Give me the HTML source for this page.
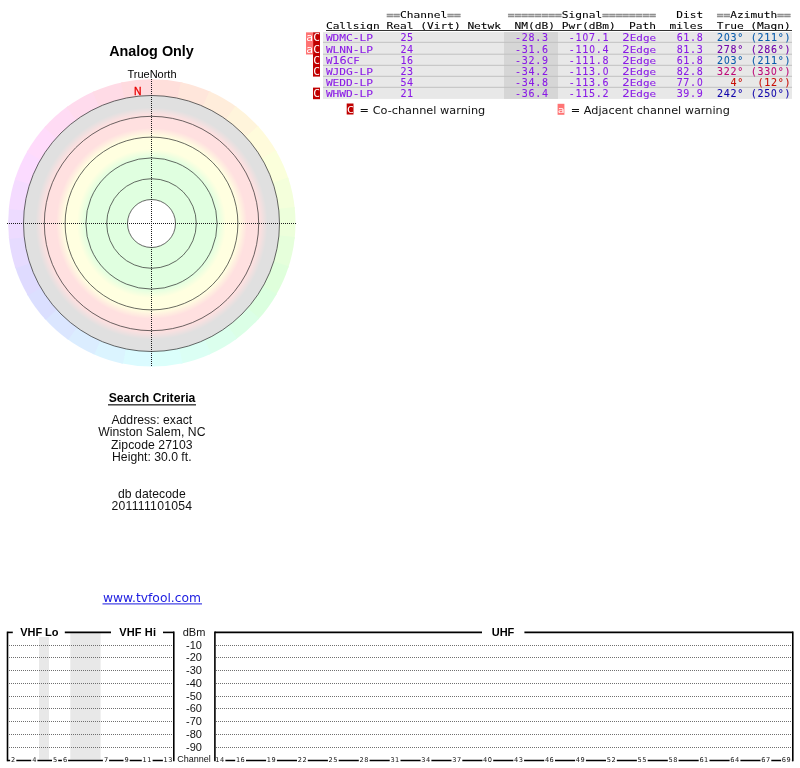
<!DOCTYPE html>
<html lang="en"><head><meta charset="utf-8"><title>TV Fool - Analog Only</title>
<style>
html,body{margin:0;padding:0;background:#fff;}
body{width:800px;height:768px;overflow:hidden;position:relative;}
svg{position:absolute;left:0;top:0;display:block;}
.sans{font-family:"Liberation Sans",Arial,Helvetica,sans-serif;}
.mono{font-family:"DejaVu Sans Mono","Liberation Mono",monospace;}
.verd{font-family:"DejaVu Sans","Liberation Sans",Verdana,sans-serif;}
.cond{font-family:"DejaVu Sans Condensed","DejaVu Sans","Liberation Sans",sans-serif;}
</style></head><body>
<svg width="800" height="768" viewBox="0 0 800 768">
<defs>
<radialGradient id="rings" gradientUnits="userSpaceOnUse" cx="151.5" cy="223.5" r="128">
<stop offset="0.0000" stop-color="#fff"/>
<stop offset="0.1875" stop-color="#fff"/>
<stop offset="0.1875" stop-color="#e0ffe0"/>
<stop offset="0.5117" stop-color="#e0ffe0"/>
<stop offset="0.5820" stop-color="#ffffe0"/>
<stop offset="0.6781" stop-color="#ffffe0"/>
<stop offset="0.7461" stop-color="#ffe0e0"/>
<stop offset="0.8422" stop-color="#ffe0e0"/>
<stop offset="0.9062" stop-color="#e0e0e0"/>
<stop offset="1.0000" stop-color="#e0e0e0"/>
</radialGradient>
</defs>
<g>
<path d="M151.8 222.9L150.80 79.20A143.7 143.7 0 0 1 182.66 82.55Z" fill="#ffdfdb"/>
<path d="M151.8 222.9L180.69 82.14A143.7 143.7 0 0 1 211.16 92.03Z" fill="#ffe6db"/>
<path d="M151.8 222.9L209.33 91.22A143.7 143.7 0 0 1 237.07 107.24Z" fill="#ffeddb"/>
<path d="M151.8 222.9L235.45 106.06A143.7 143.7 0 0 1 259.26 127.49Z" fill="#fff4db"/>
<path d="M151.8 222.9L257.92 126.00A143.7 143.7 0 0 1 276.75 151.92Z" fill="#fffbdb"/>
<path d="M151.8 222.9L275.74 150.18A143.7 143.7 0 0 1 288.77 179.45Z" fill="#fbffdb"/>
<path d="M151.8 222.9L288.15 177.54A143.7 143.7 0 0 1 294.81 208.88Z" fill="#f4ffdb"/>
<path d="M151.8 222.9L294.60 206.88A143.7 143.7 0 0 1 294.60 238.92Z" fill="#edffdb"/>
<path d="M151.8 222.9L294.81 236.92A143.7 143.7 0 0 1 288.15 268.26Z" fill="#e6ffdb"/>
<path d="M151.8 222.9L288.77 266.35A143.7 143.7 0 0 1 275.74 295.62Z" fill="#dfffdb"/>
<path d="M151.8 222.9L276.75 293.88A143.7 143.7 0 0 1 257.92 319.80Z" fill="#dbffdf"/>
<path d="M151.8 222.9L259.26 318.31A143.7 143.7 0 0 1 235.45 339.74Z" fill="#dbffe6"/>
<path d="M151.8 222.9L237.07 338.56A143.7 143.7 0 0 1 209.33 354.58Z" fill="#dbffed"/>
<path d="M151.8 222.9L211.16 353.77A143.7 143.7 0 0 1 180.69 363.66Z" fill="#dbfff4"/>
<path d="M151.8 222.9L182.66 363.25A143.7 143.7 0 0 1 150.80 366.60Z" fill="#dbfffb"/>
<path d="M151.8 222.9L152.80 366.60A143.7 143.7 0 0 1 120.94 363.25Z" fill="#dbfbff"/>
<path d="M151.8 222.9L122.91 363.66A143.7 143.7 0 0 1 92.44 353.77Z" fill="#dbf4ff"/>
<path d="M151.8 222.9L94.27 354.58A143.7 143.7 0 0 1 66.53 338.56Z" fill="#dbedff"/>
<path d="M151.8 222.9L68.15 339.74A143.7 143.7 0 0 1 44.34 318.31Z" fill="#dbe6ff"/>
<path d="M151.8 222.9L45.68 319.80A143.7 143.7 0 0 1 26.85 293.88Z" fill="#dbdfff"/>
<path d="M151.8 222.9L27.86 295.62A143.7 143.7 0 0 1 14.83 266.35Z" fill="#dfdbff"/>
<path d="M151.8 222.9L15.45 268.26A143.7 143.7 0 0 1 8.79 236.92Z" fill="#e6dbff"/>
<path d="M151.8 222.9L9.00 238.92A143.7 143.7 0 0 1 9.00 206.88Z" fill="#eddbff"/>
<path d="M151.8 222.9L8.79 208.88A143.7 143.7 0 0 1 15.45 177.54Z" fill="#f4dbff"/>
<path d="M151.8 222.9L14.83 179.45A143.7 143.7 0 0 1 27.86 150.18Z" fill="#fbdbff"/>
<path d="M151.8 222.9L26.85 151.92A143.7 143.7 0 0 1 45.68 126.00Z" fill="#ffdbfb"/>
<path d="M151.8 222.9L44.34 127.49A143.7 143.7 0 0 1 68.15 106.06Z" fill="#ffdbf4"/>
<path d="M151.8 222.9L66.53 107.24A143.7 143.7 0 0 1 94.27 91.22Z" fill="#ffdbed"/>
<path d="M151.8 222.9L92.44 92.03A143.7 143.7 0 0 1 122.91 82.14Z" fill="#ffdbe6"/>
<path d="M151.8 222.9L120.94 82.55A143.7 143.7 0 0 1 152.80 79.20Z" fill="#ffdbdf"/>
</g>
<circle cx="151.5" cy="223.5" r="128" fill="url(#rings)"/>
<circle cx="151.5" cy="223.5" r="24" fill="none" stroke="#2a2a2a" stroke-width="0.7"/>
<circle cx="151.5" cy="223.5" r="44.8" fill="none" stroke="#2a2a2a" stroke-width="0.7"/>
<circle cx="151.5" cy="223.5" r="65.6" fill="none" stroke="#2a2a2a" stroke-width="0.7"/>
<circle cx="151.5" cy="223.5" r="86.4" fill="none" stroke="#2a2a2a" stroke-width="0.7"/>
<circle cx="151.5" cy="223.5" r="107.2" fill="none" stroke="#2a2a2a" stroke-width="0.7"/>
<circle cx="151.5" cy="223.5" r="128" fill="none" stroke="#2a2a2a" stroke-width="0.7"/>
<line x1="7" y1="223.5" x2="296" y2="223.5" stroke="#1c1c1c" stroke-width="1" stroke-dasharray="1 1" shape-rendering="crispEdges"/>
<line x1="151.5" y1="79" x2="151.5" y2="367" stroke="#1c1c1c" stroke-width="1" stroke-dasharray="1 1" shape-rendering="crispEdges"/>
<text class="sans" x="151.5" y="56" font-size="14.4" font-weight="bold" text-anchor="middle" fill="#000">Analog Only</text>
<text class="sans" x="152" y="78" font-size="11" text-anchor="middle" fill="#000">TrueNorth</text>
<text class="sans" x="137.8" y="95.1" font-size="10.4" text-anchor="middle" fill="#e80000" stroke="#e80000" stroke-width="0.3">N</text>
<text class="sans" x="152" y="402" font-size="12.2" font-weight="bold" text-anchor="middle" fill="#000">Search Criteria</text>
<rect x="108" y="404.3" width="88" height="1.1" fill="#000"/>
<text class="sans" x="111.40" y="424" font-size="12.2" textLength="80.8" lengthAdjust="spacing" fill="#111">Address: exact</text>
<text class="sans" x="98.15" y="436.4" font-size="12.2" textLength="107.3" lengthAdjust="spacing" fill="#111">Winston Salem, NC</text>
<text class="sans" x="111.05" y="448.7" font-size="12.2" textLength="81.5" lengthAdjust="spacing" fill="#111">Zipcode 27103</text>
<text class="sans" x="112.05" y="460.8" font-size="12.2" textLength="79.5" lengthAdjust="spacing" fill="#111">Height: 30.0 ft.</text>
<text class="sans" x="117.90" y="497.7" font-size="12.2" textLength="67.8" lengthAdjust="spacing" fill="#111">db datecode</text>
<text class="sans" x="111.50" y="510" font-size="12.2" textLength="80.6" lengthAdjust="spacing" fill="#111">201111101054</text>
<text class="verd" x="152" y="602" font-size="12.3" text-anchor="middle" fill="#1a1ae0">www.tvfool.com</text>
<rect x="102.5" y="603.4" width="99.5" height="1" fill="#1a1ae0"/>
<text class="mono" x="386.54" y="18.70" font-size="9.6" textLength="13.48" lengthAdjust="spacingAndGlyphs" fill="#909090" stroke="#909090" stroke-width="0.45">==</text>
<text class="mono" x="400.02" y="18.0" font-size="8.7" textLength="47.17" lengthAdjust="spacingAndGlyphs" fill="#000" stroke="#000" stroke-width="0.08">Channel</text>
<text class="mono" x="447.18" y="18.70" font-size="9.6" textLength="13.48" lengthAdjust="spacingAndGlyphs" fill="#909090" stroke="#909090" stroke-width="0.45">==</text>
<text class="mono" x="507.83" y="18.70" font-size="9.6" textLength="53.90" lengthAdjust="spacingAndGlyphs" fill="#909090" stroke="#909090" stroke-width="0.45">========</text>
<text class="mono" x="561.73" y="18.0" font-size="8.7" textLength="40.43" lengthAdjust="spacingAndGlyphs" fill="#000" stroke="#000" stroke-width="0.08">Signal</text>
<text class="mono" x="602.16" y="18.70" font-size="9.6" textLength="53.90" lengthAdjust="spacingAndGlyphs" fill="#909090" stroke="#909090" stroke-width="0.45">========</text>
<text class="mono" x="676.28" y="18.0" font-size="8.7" textLength="26.95" lengthAdjust="spacingAndGlyphs" fill="#000" stroke="#000" stroke-width="0.08">Dist</text>
<text class="mono" x="716.70" y="18.70" font-size="9.6" textLength="13.48" lengthAdjust="spacingAndGlyphs" fill="#909090" stroke="#909090" stroke-width="0.45">==</text>
<text class="mono" x="730.18" y="18.0" font-size="8.7" textLength="47.17" lengthAdjust="spacingAndGlyphs" fill="#000" stroke="#000" stroke-width="0.08">Azimuth</text>
<text class="mono" x="777.35" y="18.70" font-size="9.6" textLength="13.48" lengthAdjust="spacingAndGlyphs" fill="#909090" stroke="#909090" stroke-width="0.45">==</text>
<text class="mono" x="325.90" y="29.3" font-size="8.7" textLength="53.90" lengthAdjust="spacingAndGlyphs" fill="#000" stroke="#000" stroke-width="0.08">Callsign</text>
<text class="mono" x="386.54" y="29.3" font-size="8.7" textLength="26.95" lengthAdjust="spacingAndGlyphs" fill="#000" stroke="#000" stroke-width="0.08">Real</text>
<text class="mono" x="420.23" y="29.3" font-size="8.7" textLength="40.43" lengthAdjust="spacingAndGlyphs" fill="#000" stroke="#000" stroke-width="0.08">(Virt)</text>
<text class="mono" x="467.40" y="29.3" font-size="8.7" textLength="33.69" lengthAdjust="spacingAndGlyphs" fill="#000" stroke="#000" stroke-width="0.08">Netwk</text>
<text class="mono" x="514.56" y="29.3" font-size="8.7" textLength="40.43" lengthAdjust="spacingAndGlyphs" fill="#000" stroke="#000" stroke-width="0.08">NM(dB)</text>
<text class="mono" x="561.73" y="29.3" font-size="8.7" textLength="53.90" lengthAdjust="spacingAndGlyphs" fill="#000" stroke="#000" stroke-width="0.08">Pwr(dBm)</text>
<text class="mono" x="629.11" y="29.3" font-size="8.7" textLength="26.95" lengthAdjust="spacingAndGlyphs" fill="#000" stroke="#000" stroke-width="0.08">Path</text>
<text class="mono" x="669.54" y="29.3" font-size="8.7" textLength="33.69" lengthAdjust="spacingAndGlyphs" fill="#000" stroke="#000" stroke-width="0.08">miles</text>
<text class="mono" x="716.70" y="29.3" font-size="8.7" textLength="26.95" lengthAdjust="spacingAndGlyphs" fill="#000" stroke="#000" stroke-width="0.08">True</text>
<text class="mono" x="750.39" y="29.3" font-size="8.7" textLength="40.43" lengthAdjust="spacingAndGlyphs" fill="#000" stroke="#000" stroke-width="0.08">(Magn)</text>
<rect x="326" y="30.05" width="466" height="0.95" fill="#2a2a2a"/>
<rect x="323" y="32.05" width="469" height="66.85" fill="#e8e8e8"/>
<rect x="504" y="32.05" width="54" height="66.85" fill="#d6d6d6"/>
<rect x="323" y="41.80" width="469" height="1" fill="#c0c0c0"/>
<rect x="323" y="53.70" width="469" height="1" fill="#c0c0c0"/>
<rect x="323" y="64.80" width="469" height="1" fill="#c0c0c0"/>
<rect x="323" y="75.80" width="469" height="1" fill="#c0c0c0"/>
<rect x="323" y="86.80" width="469" height="1" fill="#c0c0c0"/>
<rect x="313" y="32.35" width="7" height="10.75" fill="#c00000"/>
<text class="mono" x="313.3" y="40.8" font-size="9.6" textLength="6.75" lengthAdjust="spacingAndGlyphs" fill="#fff">C</text>
<rect x="306" y="32.35" width="7.2" height="10.75" fill="#ff7474"/>
<text class="mono" x="306.2" y="40.8" font-size="9.6" textLength="6.75" lengthAdjust="spacingAndGlyphs" fill="#fff">a</text>
<text class="mono" x="325.90" y="40.8" font-size="8.7" textLength="47.17" lengthAdjust="spacingAndGlyphs" fill="#8a1ae6" stroke="#8a1ae6" stroke-width="0.08">WDMC-LP</text>
<text class="mono" x="400.38 407.11" y="40.8" font-size="10.0" fill="#8a1ae6" stroke="#8a1ae6" stroke-width="0.1">25</text>
<text class="mono" x="514.92 521.66 528.40 535.14 541.88" y="40.8" font-size="10.0" fill="#8a1ae6" stroke="#8a1ae6" stroke-width="0.1">-28.3</text>
<text class="mono" x="568.83 575.57 582.45 589.04 595.78 602.52" y="40.8" font-size="10.0" fill="#8a1ae6" stroke="#8a1ae6" stroke-width="0.1">-1<tspan class="cond">0</tspan>7.1</text>
<text class="mono" x="622.37" y="40.8" font-size="8.7" textLength="33.69" lengthAdjust="spacingAndGlyphs" fill="#8a1ae6" stroke="#8a1ae6" stroke-width="0.08"><tspan font-size="9.7">2</tspan>Edge</text>
<text class="mono" x="676.64 683.37 690.11 696.85" y="40.8" font-size="10.0" fill="#8a1ae6" stroke="#8a1ae6" stroke-width="0.1">61.8</text>
<text class="mono" x="717.06 723.95 730.54 737.28" y="40.8" font-size="10.0" fill="#0a5cac" stroke="#0a5cac" stroke-width="0.1">2<tspan class="cond">0</tspan>3°</text>
<text class="mono" x="750.75 757.49 764.23 770.97 777.71 784.44" y="40.8" font-size="10.0" fill="#0a5cac" stroke="#0a5cac" stroke-width="0.1">(211°)</text>
<rect x="313" y="42.60" width="7" height="12.40" fill="#c00000"/>
<text class="mono" x="313.3" y="52.6" font-size="9.6" textLength="6.75" lengthAdjust="spacingAndGlyphs" fill="#fff">C</text>
<rect x="306" y="42.60" width="7.2" height="11.90" fill="#ff7474"/>
<text class="mono" x="306.2" y="52.6" font-size="9.6" textLength="6.75" lengthAdjust="spacingAndGlyphs" fill="#fff">a</text>
<text class="mono" x="325.90" y="52.6" font-size="8.7" textLength="47.17" lengthAdjust="spacingAndGlyphs" fill="#8a1ae6" stroke="#8a1ae6" stroke-width="0.08">WLNN-LP</text>
<text class="mono" x="400.38 407.11" y="52.6" font-size="10.0" fill="#8a1ae6" stroke="#8a1ae6" stroke-width="0.1">24</text>
<text class="mono" x="514.92 521.66 528.40 535.14 541.88" y="52.6" font-size="10.0" fill="#8a1ae6" stroke="#8a1ae6" stroke-width="0.1">-31.6</text>
<text class="mono" x="568.83 575.57 582.30 589.19 595.78 602.52" y="52.6" font-size="10.0" fill="#8a1ae6" stroke="#8a1ae6" stroke-width="0.1">-11<tspan class="cond">0</tspan>.4</text>
<text class="mono" x="622.37" y="52.6" font-size="8.7" textLength="33.69" lengthAdjust="spacingAndGlyphs" fill="#8a1ae6" stroke="#8a1ae6" stroke-width="0.08"><tspan font-size="9.7">2</tspan>Edge</text>
<text class="mono" x="676.64 683.37 690.11 696.85" y="52.6" font-size="10.0" fill="#8a1ae6" stroke="#8a1ae6" stroke-width="0.1">81.3</text>
<text class="mono" x="717.06 723.80 730.54 737.28" y="52.6" font-size="10.0" fill="#7204aa" stroke="#7204aa" stroke-width="0.1">278°</text>
<text class="mono" x="750.75 757.49 764.23 770.97 777.71 784.44" y="52.6" font-size="10.0" fill="#7204aa" stroke="#7204aa" stroke-width="0.1">(286°)</text>
<rect x="313" y="54.50" width="7" height="11.60" fill="#c00000"/>
<text class="mono" x="313.3" y="63.7" font-size="9.6" textLength="6.75" lengthAdjust="spacingAndGlyphs" fill="#fff">C</text>
<text class="mono" x="325.90" y="63.7" font-size="8.7" textLength="33.69" lengthAdjust="spacingAndGlyphs" fill="#8a1ae6" stroke="#8a1ae6" stroke-width="0.08">W<tspan font-size="9.7">1</tspan><tspan font-size="9.7">6</tspan>CF</text>
<text class="mono" x="400.38 407.11" y="63.7" font-size="10.0" fill="#8a1ae6" stroke="#8a1ae6" stroke-width="0.1">16</text>
<text class="mono" x="514.92 521.66 528.40 535.14 541.88" y="63.7" font-size="10.0" fill="#8a1ae6" stroke="#8a1ae6" stroke-width="0.1">-32.9</text>
<text class="mono" x="568.83 575.57 582.30 589.04 595.78 602.52" y="63.7" font-size="10.0" fill="#8a1ae6" stroke="#8a1ae6" stroke-width="0.1">-111.8</text>
<text class="mono" x="622.37" y="63.7" font-size="8.7" textLength="33.69" lengthAdjust="spacingAndGlyphs" fill="#8a1ae6" stroke="#8a1ae6" stroke-width="0.08"><tspan font-size="9.7">2</tspan>Edge</text>
<text class="mono" x="676.64 683.37 690.11 696.85" y="63.7" font-size="10.0" fill="#8a1ae6" stroke="#8a1ae6" stroke-width="0.1">61.8</text>
<text class="mono" x="717.06 723.95 730.54 737.28" y="63.7" font-size="10.0" fill="#0a5cac" stroke="#0a5cac" stroke-width="0.1">2<tspan class="cond">0</tspan>3°</text>
<text class="mono" x="750.75 757.49 764.23 770.97 777.71 784.44" y="63.7" font-size="10.0" fill="#0a5cac" stroke="#0a5cac" stroke-width="0.1">(211°)</text>
<rect x="313" y="65.60" width="7" height="11.00" fill="#c00000"/>
<text class="mono" x="313.3" y="74.8" font-size="9.6" textLength="6.75" lengthAdjust="spacingAndGlyphs" fill="#fff">C</text>
<text class="mono" x="325.90" y="74.8" font-size="8.7" textLength="47.17" lengthAdjust="spacingAndGlyphs" fill="#8a1ae6" stroke="#8a1ae6" stroke-width="0.08">WJDG-LP</text>
<text class="mono" x="400.38 407.11" y="74.8" font-size="10.0" fill="#8a1ae6" stroke="#8a1ae6" stroke-width="0.1">23</text>
<text class="mono" x="514.92 521.66 528.40 535.14 541.88" y="74.8" font-size="10.0" fill="#8a1ae6" stroke="#8a1ae6" stroke-width="0.1">-34.2</text>
<text class="mono" x="568.83 575.57 582.30 589.04 595.78 602.67" y="74.8" font-size="10.0" fill="#8a1ae6" stroke="#8a1ae6" stroke-width="0.1">-113.<tspan class="cond">0</tspan></text>
<text class="mono" x="622.37" y="74.8" font-size="8.7" textLength="33.69" lengthAdjust="spacingAndGlyphs" fill="#8a1ae6" stroke="#8a1ae6" stroke-width="0.08"><tspan font-size="9.7">2</tspan>Edge</text>
<text class="mono" x="676.64 683.37 690.11 696.85" y="74.8" font-size="10.0" fill="#8a1ae6" stroke="#8a1ae6" stroke-width="0.1">82.8</text>
<text class="mono" x="717.06 723.80 730.54 737.28" y="74.8" font-size="10.0" fill="#be0a78" stroke="#be0a78" stroke-width="0.1">322°</text>
<text class="mono" x="750.75 757.49 764.23 771.12 777.71 784.44" y="74.8" font-size="10.0" fill="#be0a78" stroke="#be0a78" stroke-width="0.1">(33<tspan class="cond">0</tspan>°)</text>
<text class="mono" x="325.90" y="85.8" font-size="8.7" textLength="47.17" lengthAdjust="spacingAndGlyphs" fill="#8a1ae6" stroke="#8a1ae6" stroke-width="0.08">WEDD-LP</text>
<text class="mono" x="400.38 407.11" y="85.8" font-size="10.0" fill="#8a1ae6" stroke="#8a1ae6" stroke-width="0.1">54</text>
<text class="mono" x="514.92 521.66 528.40 535.14 541.88" y="85.8" font-size="10.0" fill="#8a1ae6" stroke="#8a1ae6" stroke-width="0.1">-34.8</text>
<text class="mono" x="568.83 575.57 582.30 589.04 595.78 602.52" y="85.8" font-size="10.0" fill="#8a1ae6" stroke="#8a1ae6" stroke-width="0.1">-113.6</text>
<text class="mono" x="622.37" y="85.8" font-size="8.7" textLength="33.69" lengthAdjust="spacingAndGlyphs" fill="#8a1ae6" stroke="#8a1ae6" stroke-width="0.08"><tspan font-size="9.7">2</tspan>Edge</text>
<text class="mono" x="676.64 683.37 690.11 697.00" y="85.8" font-size="10.0" fill="#8a1ae6" stroke="#8a1ae6" stroke-width="0.1">77.<tspan class="cond">0</tspan></text>
<text class="mono" x="730.54 737.28" y="85.8" font-size="10.0" fill="#c81008" stroke="#c81008" stroke-width="0.1">4°</text>
<text class="mono" x="757.49 764.23 770.97 777.71 784.44" y="85.8" font-size="10.0" fill="#c81008" stroke="#c81008" stroke-width="0.1">(12°)</text>
<rect x="313" y="87.60" width="7" height="11.60" fill="#c00000"/>
<text class="mono" x="313.3" y="96.8" font-size="9.6" textLength="6.75" lengthAdjust="spacingAndGlyphs" fill="#fff">C</text>
<text class="mono" x="325.90" y="96.8" font-size="8.7" textLength="47.17" lengthAdjust="spacingAndGlyphs" fill="#8a1ae6" stroke="#8a1ae6" stroke-width="0.08">WHWD-LP</text>
<text class="mono" x="400.38 407.11" y="96.8" font-size="10.0" fill="#8a1ae6" stroke="#8a1ae6" stroke-width="0.1">21</text>
<text class="mono" x="514.92 521.66 528.40 535.14 541.88" y="96.8" font-size="10.0" fill="#8a1ae6" stroke="#8a1ae6" stroke-width="0.1">-36.4</text>
<text class="mono" x="568.83 575.57 582.30 589.04 595.78 602.52" y="96.8" font-size="10.0" fill="#8a1ae6" stroke="#8a1ae6" stroke-width="0.1">-115.2</text>
<text class="mono" x="622.37" y="96.8" font-size="8.7" textLength="33.69" lengthAdjust="spacingAndGlyphs" fill="#8a1ae6" stroke="#8a1ae6" stroke-width="0.08"><tspan font-size="9.7">2</tspan>Edge</text>
<text class="mono" x="676.64 683.37 690.11 696.85" y="96.8" font-size="10.0" fill="#8a1ae6" stroke="#8a1ae6" stroke-width="0.1">39.9</text>
<text class="mono" x="717.06 723.80 730.54 737.28" y="96.8" font-size="10.0" fill="#1206ac" stroke="#1206ac" stroke-width="0.1">242°</text>
<text class="mono" x="750.75 757.49 764.23 771.12 777.71 784.44" y="96.8" font-size="10.0" fill="#1206ac" stroke="#1206ac" stroke-width="0.1">(25<tspan class="cond">0</tspan>°)</text>
<rect x="346.7" y="103.5" width="6.8" height="11" fill="#c00000"/>
<text class="mono" x="346.9" y="113.4" font-size="9" textLength="6.75" lengthAdjust="spacingAndGlyphs" fill="#fff">C</text>
<text class="verd" x="359.6" y="114" font-size="11.3" fill="#111">= Co-channel warning</text>
<rect x="557.6" y="103.8" width="6.8" height="11" fill="#ff7474"/>
<text class="mono" x="557.7" y="113.4" font-size="9" textLength="6.75" lengthAdjust="spacingAndGlyphs" fill="#fff">a</text>
<text class="verd" x="570.8" y="114" font-size="11.25" fill="#111">= Adjacent channel warning</text>
<rect x="39" y="633" width="10" height="126.5" fill="#e8e8e8"/>
<rect x="70.3" y="633" width="30.3" height="126.5" fill="#e8e8e8"/>
<line x1="9" y1="645.5" x2="173" y2="645.5" stroke="#707070" stroke-width="1" stroke-dasharray="1 1" shape-rendering="crispEdges"/>
<line x1="216" y1="645.5" x2="792" y2="645.5" stroke="#707070" stroke-width="1" stroke-dasharray="1 1" shape-rendering="crispEdges"/>
<line x1="9" y1="657.5" x2="173" y2="657.5" stroke="#707070" stroke-width="1" stroke-dasharray="1 1" shape-rendering="crispEdges"/>
<line x1="216" y1="657.5" x2="792" y2="657.5" stroke="#707070" stroke-width="1" stroke-dasharray="1 1" shape-rendering="crispEdges"/>
<line x1="9" y1="670.5" x2="173" y2="670.5" stroke="#707070" stroke-width="1" stroke-dasharray="1 1" shape-rendering="crispEdges"/>
<line x1="216" y1="670.5" x2="792" y2="670.5" stroke="#707070" stroke-width="1" stroke-dasharray="1 1" shape-rendering="crispEdges"/>
<line x1="9" y1="683.5" x2="173" y2="683.5" stroke="#707070" stroke-width="1" stroke-dasharray="1 1" shape-rendering="crispEdges"/>
<line x1="216" y1="683.5" x2="792" y2="683.5" stroke="#707070" stroke-width="1" stroke-dasharray="1 1" shape-rendering="crispEdges"/>
<line x1="9" y1="696.5" x2="173" y2="696.5" stroke="#707070" stroke-width="1" stroke-dasharray="1 1" shape-rendering="crispEdges"/>
<line x1="216" y1="696.5" x2="792" y2="696.5" stroke="#707070" stroke-width="1" stroke-dasharray="1 1" shape-rendering="crispEdges"/>
<line x1="9" y1="708.5" x2="173" y2="708.5" stroke="#707070" stroke-width="1" stroke-dasharray="1 1" shape-rendering="crispEdges"/>
<line x1="216" y1="708.5" x2="792" y2="708.5" stroke="#707070" stroke-width="1" stroke-dasharray="1 1" shape-rendering="crispEdges"/>
<line x1="9" y1="721.5" x2="173" y2="721.5" stroke="#707070" stroke-width="1" stroke-dasharray="1 1" shape-rendering="crispEdges"/>
<line x1="216" y1="721.5" x2="792" y2="721.5" stroke="#707070" stroke-width="1" stroke-dasharray="1 1" shape-rendering="crispEdges"/>
<line x1="9" y1="734.5" x2="173" y2="734.5" stroke="#707070" stroke-width="1" stroke-dasharray="1 1" shape-rendering="crispEdges"/>
<line x1="216" y1="734.5" x2="792" y2="734.5" stroke="#707070" stroke-width="1" stroke-dasharray="1 1" shape-rendering="crispEdges"/>
<line x1="9" y1="747.5" x2="173" y2="747.5" stroke="#707070" stroke-width="1" stroke-dasharray="1 1" shape-rendering="crispEdges"/>
<line x1="216" y1="747.5" x2="792" y2="747.5" stroke="#707070" stroke-width="1" stroke-dasharray="1 1" shape-rendering="crispEdges"/>
<line x1="7.5" y1="632.4" x2="12.8" y2="632.4" stroke="#000" stroke-width="1.6"/>
<line x1="64.8" y1="632.4" x2="111" y2="632.4" stroke="#000" stroke-width="1.6"/>
<line x1="163" y1="632.4" x2="173.8" y2="632.4" stroke="#000" stroke-width="1.6"/>
<line x1="7.5" y1="760.5" x2="173.8" y2="760.5" stroke="#000" stroke-width="1.6"/>
<line x1="214.9" y1="632.4" x2="482" y2="632.4" stroke="#000" stroke-width="1.6"/>
<line x1="524.4" y1="632.4" x2="792.8" y2="632.4" stroke="#000" stroke-width="1.6"/>
<line x1="214.9" y1="760.5" x2="792.8" y2="760.5" stroke="#000" stroke-width="1.6"/>
<rect x="10.10" y="756" width="6.20" height="7" fill="#fff"/>
<rect x="31.20" y="756" width="6.20" height="7" fill="#fff"/>
<rect x="52.00" y="756" width="6.20" height="7" fill="#fff"/>
<rect x="61.90" y="756" width="6.20" height="7" fill="#fff"/>
<rect x="102.90" y="756" width="6.20" height="7" fill="#fff"/>
<rect x="123.50" y="756" width="6.20" height="7" fill="#fff"/>
<rect x="141.80" y="756" width="10.80" height="7" fill="#fff"/>
<rect x="162.90" y="756" width="10.80" height="7" fill="#fff"/>
<rect x="235.20" y="756" width="10.80" height="7" fill="#fff"/>
<rect x="266.10" y="756" width="10.80" height="7" fill="#fff"/>
<rect x="297.00" y="756" width="10.80" height="7" fill="#fff"/>
<rect x="327.90" y="756" width="10.80" height="7" fill="#fff"/>
<rect x="358.80" y="756" width="10.80" height="7" fill="#fff"/>
<rect x="389.70" y="756" width="10.80" height="7" fill="#fff"/>
<rect x="420.60" y="756" width="10.80" height="7" fill="#fff"/>
<rect x="451.50" y="756" width="10.80" height="7" fill="#fff"/>
<rect x="482.40" y="756" width="10.80" height="7" fill="#fff"/>
<rect x="513.30" y="756" width="10.80" height="7" fill="#fff"/>
<rect x="544.20" y="756" width="10.80" height="7" fill="#fff"/>
<rect x="575.10" y="756" width="10.80" height="7" fill="#fff"/>
<rect x="606.00" y="756" width="10.80" height="7" fill="#fff"/>
<rect x="636.90" y="756" width="10.80" height="7" fill="#fff"/>
<rect x="667.80" y="756" width="10.80" height="7" fill="#fff"/>
<rect x="698.70" y="756" width="10.80" height="7" fill="#fff"/>
<rect x="729.60" y="756" width="10.80" height="7" fill="#fff"/>
<rect x="760.50" y="756" width="10.80" height="7" fill="#fff"/>
<rect x="214.60" y="756" width="10.80" height="7" fill="#fff"/>
<rect x="781.10" y="756" width="10.80" height="7" fill="#fff"/>
<line x1="7.5" y1="631.6" x2="7.5" y2="761.3" stroke="#000" stroke-width="1.6"/>
<line x1="173.8" y1="631.6" x2="173.8" y2="761.3" stroke="#000" stroke-width="1.6"/>
<line x1="214.9" y1="631.6" x2="214.9" y2="761.3" stroke="#000" stroke-width="1.6"/>
<line x1="792.8" y1="631.6" x2="792.8" y2="761.3" stroke="#000" stroke-width="1.6"/>
<text class="verd" x="13.20" y="762" font-size="6.6" text-anchor="middle" fill="#111">2</text>
<text class="verd" x="34.30" y="762" font-size="6.6" text-anchor="middle" fill="#111">4</text>
<text class="verd" x="55.10" y="762" font-size="6.6" text-anchor="middle" fill="#111">5</text>
<text class="verd" x="65.00" y="762" font-size="6.6" text-anchor="middle" fill="#111">6</text>
<text class="verd" x="106.00" y="762" font-size="6.6" text-anchor="middle" fill="#111">7</text>
<text class="verd" x="126.60" y="762" font-size="6.6" text-anchor="middle" fill="#111">9</text>
<text class="verd" x="147.20" y="762" font-size="6.6" text-anchor="middle" fill="#111" letter-spacing="0.5">11</text>
<text class="verd" x="168.30" y="762" font-size="6.6" text-anchor="middle" fill="#111" letter-spacing="0.5">13</text>
<text class="verd" x="240.60" y="762" font-size="6.6" text-anchor="middle" fill="#111" letter-spacing="0.5">16</text>
<text class="verd" x="271.50" y="762" font-size="6.6" text-anchor="middle" fill="#111" letter-spacing="0.5">19</text>
<text class="verd" x="302.40" y="762" font-size="6.6" text-anchor="middle" fill="#111" letter-spacing="0.5">22</text>
<text class="verd" x="333.30" y="762" font-size="6.6" text-anchor="middle" fill="#111" letter-spacing="0.5">25</text>
<text class="verd" x="364.20" y="762" font-size="6.6" text-anchor="middle" fill="#111" letter-spacing="0.5">28</text>
<text class="verd" x="395.10" y="762" font-size="6.6" text-anchor="middle" fill="#111" letter-spacing="0.5">31</text>
<text class="verd" x="426.00" y="762" font-size="6.6" text-anchor="middle" fill="#111" letter-spacing="0.5">34</text>
<text class="verd" x="456.90" y="762" font-size="6.6" text-anchor="middle" fill="#111" letter-spacing="0.5">37</text>
<text class="verd" x="487.80" y="762" font-size="6.6" text-anchor="middle" fill="#111" letter-spacing="0.5">40</text>
<text class="verd" x="518.70" y="762" font-size="6.6" text-anchor="middle" fill="#111" letter-spacing="0.5">43</text>
<text class="verd" x="549.60" y="762" font-size="6.6" text-anchor="middle" fill="#111" letter-spacing="0.5">46</text>
<text class="verd" x="580.50" y="762" font-size="6.6" text-anchor="middle" fill="#111" letter-spacing="0.5">49</text>
<text class="verd" x="611.40" y="762" font-size="6.6" text-anchor="middle" fill="#111" letter-spacing="0.5">52</text>
<text class="verd" x="642.30" y="762" font-size="6.6" text-anchor="middle" fill="#111" letter-spacing="0.5">55</text>
<text class="verd" x="673.20" y="762" font-size="6.6" text-anchor="middle" fill="#111" letter-spacing="0.5">58</text>
<text class="verd" x="704.10" y="762" font-size="6.6" text-anchor="middle" fill="#111" letter-spacing="0.5">61</text>
<text class="verd" x="735.00" y="762" font-size="6.6" text-anchor="middle" fill="#111" letter-spacing="0.5">64</text>
<text class="verd" x="765.90" y="762" font-size="6.6" text-anchor="middle" fill="#111" letter-spacing="0.5">67</text>
<text class="verd" x="220.00" y="762" font-size="6.6" text-anchor="middle" fill="#111" letter-spacing="0.5">14</text>
<text class="verd" x="786.50" y="762" font-size="6.6" text-anchor="middle" fill="#111" letter-spacing="0.5">69</text>
<rect x="16" y="626" width="46" height="11" fill="#fff"/>
<text class="sans" x="39.4" y="636.3" font-size="11" font-weight="bold" text-anchor="middle" fill="#000" textLength="38.2" lengthAdjust="spacing">VHF Lo</text>
<text class="sans" x="137.6" y="636.3" font-size="11" font-weight="bold" text-anchor="middle" fill="#000" textLength="36.8" lengthAdjust="spacing">VHF Hi</text>
<text class="sans" x="503" y="636.3" font-size="11" font-weight="bold" text-anchor="middle" fill="#000">UHF</text>
<text class="sans" x="194" y="636.2" font-size="11" text-anchor="middle" fill="#111">dBm</text>
<text class="sans" x="194" y="648.5" font-size="11" text-anchor="middle" fill="#111">-10</text>
<text class="sans" x="194" y="661.3" font-size="11" text-anchor="middle" fill="#111">-20</text>
<text class="sans" x="194" y="674.3" font-size="11" text-anchor="middle" fill="#111">-30</text>
<text class="sans" x="194" y="687.3" font-size="11" text-anchor="middle" fill="#111">-40</text>
<text class="sans" x="194" y="700.3" font-size="11" text-anchor="middle" fill="#111">-50</text>
<text class="sans" x="194" y="712.3" font-size="11" text-anchor="middle" fill="#111">-60</text>
<text class="sans" x="194" y="725.3" font-size="11" text-anchor="middle" fill="#111">-70</text>
<text class="sans" x="194" y="738.3" font-size="11" text-anchor="middle" fill="#111">-80</text>
<text class="sans" x="194" y="750.5" font-size="11" text-anchor="middle" fill="#111">-90</text>
<text class="sans" x="194" y="762" font-size="9" text-anchor="middle" fill="#111">Channel</text>
</svg></body></html>
